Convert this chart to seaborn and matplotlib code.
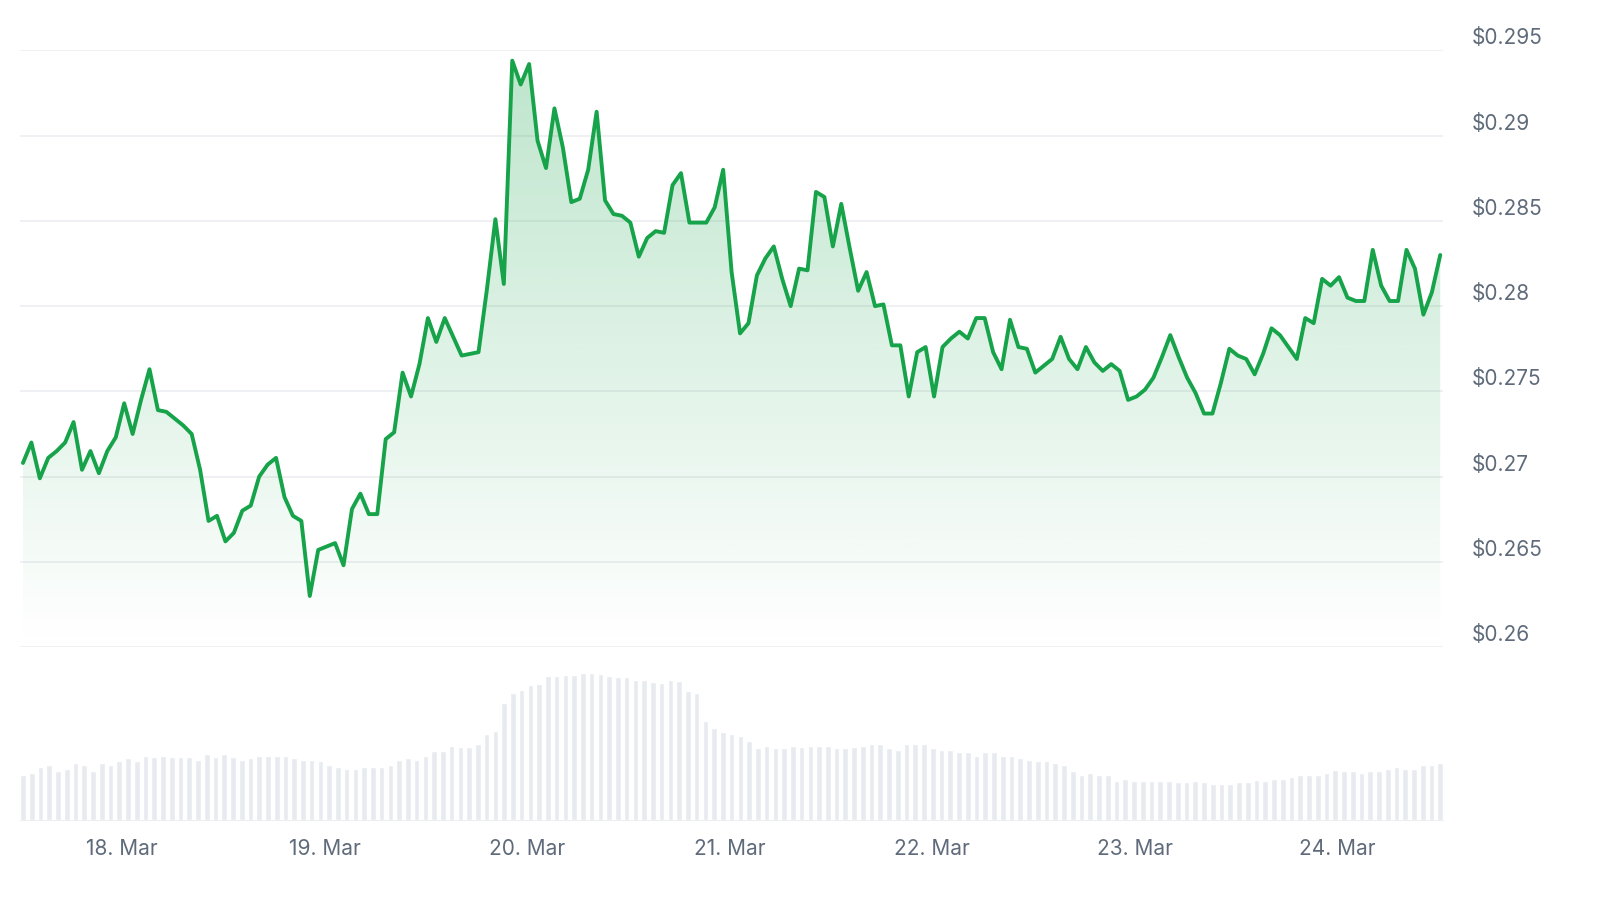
import numpy as np
import pandas as pd
import matplotlib
matplotlib.use("Agg")
import matplotlib.pyplot as plt
import matplotlib.dates as mdates
from matplotlib.transforms import blended_transform_factory
import seaborn as sns

# price (USD), roughly hourly
prices = [
    0.2708, 0.2720, 0.2699, 0.2711, 0.2715, 0.2720, 0.2732, 0.2704, 0.2715, 0.2702,
    0.2715, 0.2723, 0.2743, 0.2725, 0.2745, 0.2763, 0.2739, 0.2738, 0.2734, 0.2730,
    0.2725, 0.2704, 0.2674, 0.2677, 0.2662, 0.2667, 0.2680, 0.2683, 0.2700, 0.2707,
    0.2711, 0.2688, 0.2677, 0.2674, 0.2630, 0.2657, 0.2659, 0.2661, 0.2648, 0.2681,
    0.2690, 0.2678, 0.2678, 0.2722, 0.2726, 0.2761, 0.2747, 0.2766, 0.2793, 0.2779,
    0.2793, 0.2782, 0.2771, 0.2772, 0.2773, 0.2810, 0.2851, 0.2813, 0.2944, 0.2930,
    0.2942, 0.2897, 0.2881, 0.2916, 0.2893, 0.2861, 0.2863, 0.2880, 0.2914, 0.2862,
    0.2854, 0.2853, 0.2849, 0.2829, 0.2840, 0.2844, 0.2843, 0.2871, 0.2878, 0.2849,
    0.2849, 0.2849, 0.2858, 0.2880, 0.2820, 0.2784, 0.2790, 0.2818, 0.2828, 0.2835,
    0.2816, 0.2800, 0.2822, 0.2821, 0.2867, 0.2864, 0.2835, 0.2860, 0.2834, 0.2809,
    0.2820, 0.2800, 0.2801, 0.2777, 0.2777, 0.2747, 0.2773, 0.2776, 0.2747, 0.2776,
    0.2781, 0.2785, 0.2781, 0.2793, 0.2793, 0.2773, 0.2763, 0.2792, 0.2776, 0.2775,
    0.2761, 0.2765, 0.2769, 0.2782, 0.2769, 0.2763, 0.2776, 0.2767, 0.2762, 0.2766,
    0.2762, 0.2745, 0.2747, 0.2751, 0.2758, 0.2770, 0.2783, 0.2770, 0.2758, 0.2749,
    0.2737, 0.2737, 0.2755, 0.2775, 0.2771, 0.2769, 0.2760, 0.2772, 0.2787, 0.2783,
    0.2776, 0.2769, 0.2793, 0.2790, 0.2816, 0.2812, 0.2817, 0.2805, 0.2803, 0.2803,
    0.2833, 0.2812, 0.2803, 0.2803, 0.2833, 0.2822, 0.2795, 0.2808, 0.2830,
]

# volume bar heights (relative units)
volume_tops = [
    390, 385, 368, 362, 378, 373, 356, 362, 380, 356, 360, 350, 340, 350, 333, 338, 333, 338, 338, 338,
    345, 328, 338, 328, 338, 345, 340, 333, 333, 333, 333, 340, 345, 345, 350, 360, 368, 373, 373, 368,
    368, 368, 362, 345, 340, 345, 333, 320, 320, 303, 308, 308, 298, 268, 258, 175, 145, 135, 122, 118,
    95, 95, 90, 90, 85, 85, 88, 93, 98, 98, 105, 105, 112, 115, 105, 110, 140, 145, 228, 250,
    262, 268, 275, 288, 310, 305, 310, 310, 305, 308, 303, 303, 303, 310, 310, 308, 303, 298, 298, 310,
    316, 298, 298, 298, 310, 316, 316, 322, 322, 333, 322, 322, 333, 333, 340, 345, 350, 350, 355, 362,
    380, 390, 385, 390, 390, 408, 403, 408, 410, 408, 408, 408, 413, 413, 410, 413, 418, 418, 418, 413,
    413, 405, 408, 403, 403, 398, 390, 390, 390, 385, 375, 378, 378, 385, 378, 378, 373, 368, 372, 372,
    362, 360, 355,
]
volumes = [525 - t for t in volume_tops]

y_ticks = [0.26, 0.265, 0.27, 0.275, 0.28, 0.285, 0.29, 0.295]
y_labels = ["$0.26", "$0.265", "$0.27", "$0.275", "$0.28", "$0.285", "$0.29", "$0.295"]
day_ticks = ["2024-03-18", "2024-03-19", "2024-03-20", "2024-03-21", "2024-03-22", "2024-03-23", "2024-03-24"]
day_labels = ["18. Mar", "19. Mar", "20. Mar", "21. Mar", "22. Mar", "23. Mar", "24. Mar"]

t_start = pd.Timestamp("2024-03-17 12:15")
t_end = pd.Timestamp("2024-03-24 12:13")
x_lo = pd.Timestamp("2024-03-17 11:54")
x_hi = pd.Timestamp("2024-03-24 12:34")

price_df = pd.DataFrame({"time": pd.date_range(t_start, t_end, periods=len(prices)), "price": prices})
vol_time = pd.date_range(t_start, t_end, periods=len(volumes))

GREEN = "#16a34a"
TEXT = "#5f6b7a"
GRID = "#eceef1"

sns.set_style("white")
plt.rcParams["font.family"] = ["Inter", "DejaVu Sans"]

fig = plt.figure(figsize=(16, 9), dpi=100)
ax = fig.add_axes([0.0125, 0.281, 0.8895, 0.663])
axv = fig.add_axes([0.0125, 0.089, 0.8895, 0.167])

# gradient fill under line
x_num = mdates.date2num(price_df["time"])
poly = ax.fill_between(x_num, price_df["price"], 0.26, color="none")
grad = np.linspace(0.0, 1.0, 256).reshape(-1, 1)
rgba = np.zeros((256, 1, 4))
rgba[..., :3] = matplotlib.colors.to_rgb(GREEN)
rgba[..., 3] = grad * 0.28
img = ax.imshow(rgba, aspect="auto", origin="lower",
                extent=[x_num[0], x_num[-1], 0.26, max(prices)], zorder=1)
img.set_clip_path(poly.get_paths()[0], transform=ax.transData)

sns.lineplot(data=price_df, x="time", y="price", color=GREEN, linewidth=2.8, ax=ax, zorder=3)

ax.set_xlim(x_lo, x_hi)
ax.set_ylim(0.26, 0.295)
ax.set_yticks(y_ticks)
ax.yaxis.grid(True, color=GRID, linewidth=1.2)
ax.set_yticklabels([])
ax.tick_params(left=False, bottom=False, labelbottom=False)
ax.set_xlabel("")
ax.set_ylabel("")
for s in ax.spines.values():
    s.set_visible(False)
trans = blended_transform_factory(ax.transAxes, ax.transData)
for v, lab in zip(y_ticks, y_labels):
    ax.text(1.02, v + 0.0007, lab, transform=trans, ha="left", va="center",
            fontsize=15, color=TEXT)

axv.bar(vol_time, volumes, width=0.028, color="#e7ebf0")
axv.set_xlim(x_lo, x_hi)
axv.set_ylim(0, 450)
axv.set_yticks([])
axv.set_xticks([pd.Timestamp(d) for d in day_ticks])
axv.set_xticklabels(day_labels, fontsize=15, color=TEXT)
axv.tick_params(axis="x", length=6, color="#e3e6ea", pad=8)
for s in ["top", "left", "right"]:
    axv.spines[s].set_visible(False)
axv.spines["bottom"].set_color("#eceef1")

fig.savefig("out.png", dpi=100, facecolor="white")
